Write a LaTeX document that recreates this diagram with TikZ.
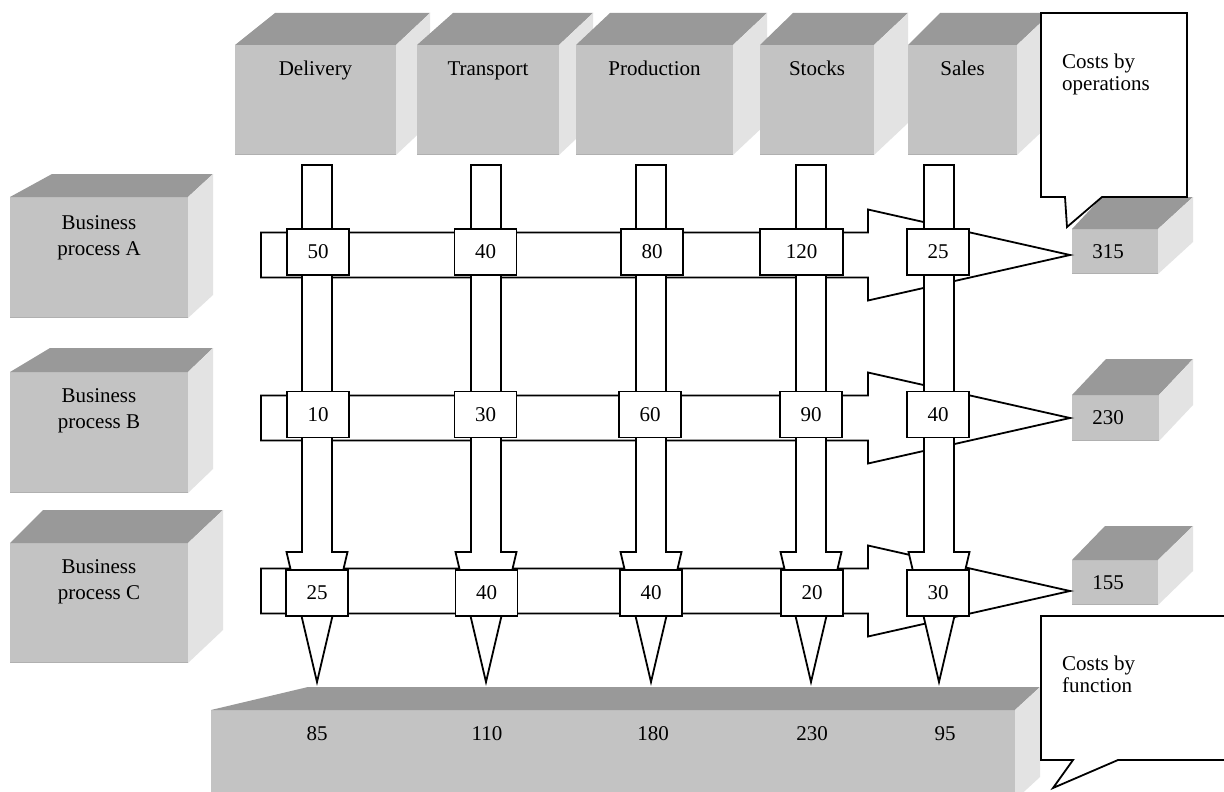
\documentclass[tikz,border=0pt]{standalone}
\usepackage{fontspec}
\setmainfont{Liberation Serif}
\definecolor{topg}{HTML}{999999}
\definecolor{frontg}{HTML}{C3C3C3}
\definecolor{sideg}{HTML}{E3E3E3}
\definecolor{edgeg}{HTML}{B0B0B0}
% x1,y1,x2,y2 = front face; bx1,bx2,by = back top edge
\newcommand{\cuboidbox}[7]{%
  \fill[frontg] (#1,#2) rectangle (#3,#4);
  \draw[edgeg,line width=1.5pt] (#1,{#4-0.75}) -- (#3,{#4-0.75});
  \fill[topg] (#1,#2) -- (#5,#7) -- (#6,#7) -- (#3,#2) -- cycle;
  \fill[sideg] (#3,#2) -- (#6,#7) -- (#6,{#4+#7-#2}) -- (#3,#4) -- cycle;
}
\tikzset{
  arrowshape/.style={draw=black, fill=white, line width=1.8pt, line join=miter},
  numbox/.style={draw=black, fill=white, line width=1.8pt, minimum width=62pt,
    minimum height=46pt, inner sep=0pt, font=\fontsize{21}{24}\selectfont},
  lbl/.style={font=\fontsize{21}{24}\selectfont, inner sep=0pt},
  twolines/.style={font=\fontsize{21}{26}\selectfont, inner sep=0pt, align=center, anchor=north},
  calltext/.style={font=\fontsize{21}{22}\selectfont, inner sep=0pt, align=left, anchor=north west},
  callout/.style={draw=black, fill=white, line width=1.8pt, line join=miter}
}
\begin{document}
\begin{tikzpicture}[x=1pt,y=-1pt]
\useasboundingbox (0,0) rectangle (1224,792);
\fill[white] (0,0) rectangle (1224,792);

% top function boxes
\cuboidbox{235}{45}{396}{155}{275}{430}{13}
\cuboidbox{417}{45}{559}{155}{453}{593}{13}
\cuboidbox{576}{45}{733}{155}{610}{767}{13}
\cuboidbox{760}{45}{874}{155}{793}{908}{13}
\cuboidbox{908}{45}{1017}{155}{940}{1051}{13}
\node[lbl, anchor=base] (fDel) at (315.5,76) {Delivery};
\node[lbl, anchor=base] (fTra) at (488,76) {Transport};
\node[lbl, anchor=base] (fPro) at (654.5,76) {Production};
\node[lbl, anchor=base] (fSto) at (817,76) {Stocks};
\node[lbl, anchor=base] (fSal) at (962.5,76) {Sales};

% left process boxes
\cuboidbox{10}{197}{188}{318}{52}{213}{174}
\cuboidbox{10}{372}{188}{493}{50}{213}{348}
\cuboidbox{10}{543}{188}{663}{43}{223}{510}
\node[twolines] (pA) at (99,215.7) {Business\\process A};
\node[twolines] (pB) at (99,388.7) {Business\\process B};
\node[twolines] (pC) at (99,559.7) {Business\\process C};

% bottom total box
\cuboidbox{211}{710}{1015}{800}{308}{1040}{687}
\node[lbl, anchor=base] (tDel) at (317,740) {85};
\node[lbl, anchor=base] (tTra) at (487,740) {110};
\node[lbl, anchor=base] (tPro) at (653,740) {180};
\node[lbl, anchor=base] (tSto) at (812,740) {230};
\node[lbl, anchor=base] (tSal) at (945,740) {95};

% right total boxes
\cuboidbox{1072}{229}{1158}{274}{1102}{1193}{197}
\cuboidbox{1072}{395}{1159}{441}{1106}{1193}{359}
\cuboidbox{1072}{560}{1158}{605}{1105}{1193}{526}
\node[lbl] (sA) at (1108,251.5) {315};
\node[lbl] (sB) at (1108,418) {230};
\node[lbl] (sC) at (1108,582.5) {155};

% horizontal block arrows
\foreach \yc in {255,418,591}{
  \draw[arrowshape] (261,\yc-22.5) -- (868,\yc-22.5) -- (868,\yc-45.5) -- (1070,\yc)
    -- (868,\yc+45.5) -- (868,\yc+22.5) -- (261,\yc+22.5) -- cycle;
}
% vertical block arrows
\foreach \xc in {317,486,651,811,939}{
  \draw[arrowshape] (\xc-15,165) -- (\xc+15,165) -- (\xc+15,552) -- (\xc+30.5,552)
    -- (\xc,682) -- (\xc-30.5,552) -- (\xc-15,552) -- cycle;
}

% cost cells
\node[numbox] (a1) at (318,252) {50};
\node[numbox] (a2) at (485.5,252) {40};
\node[numbox] (a3) at (652,252) {80};
\node[numbox, minimum width=83pt] (a4) at (801.5,252) {120};
\node[numbox] (a5) at (938,252) {25};
\node[numbox] (b1) at (318,414.5) {10};
\node[numbox] (b2) at (485.5,414.5) {30};
\node[numbox] (b3) at (650,414.5) {60};
\node[numbox] (b4) at (811,414.5) {90};
\node[numbox] (b5) at (938,414.5) {40};
\node[numbox] (c1) at (317,593) {25};
\node[numbox] (c2) at (486.5,593) {40};
\node[numbox] (c3) at (651,593) {40};
\node[numbox] (c4) at (812,593) {20};
\node[numbox] (c5) at (938,593) {30};

% callouts
\draw[callout] (1041,13) -- (1187,13) -- (1187,197) -- (1102,197) -- (1067,227)
  -- (1065,197) -- (1041,197) -- cycle;
\node[calltext] (cOp) at (1062,53.7) {Costs by\\operations};
\draw[callout] (1041,616) -- (1240,616) -- (1240,760) -- (1118,760) -- (1053,788)
  -- (1073,760) -- (1041,760) -- cycle;
\node[calltext] (cFn) at (1062,655.7) {Costs by\\function};
\end{tikzpicture}
\end{document}
